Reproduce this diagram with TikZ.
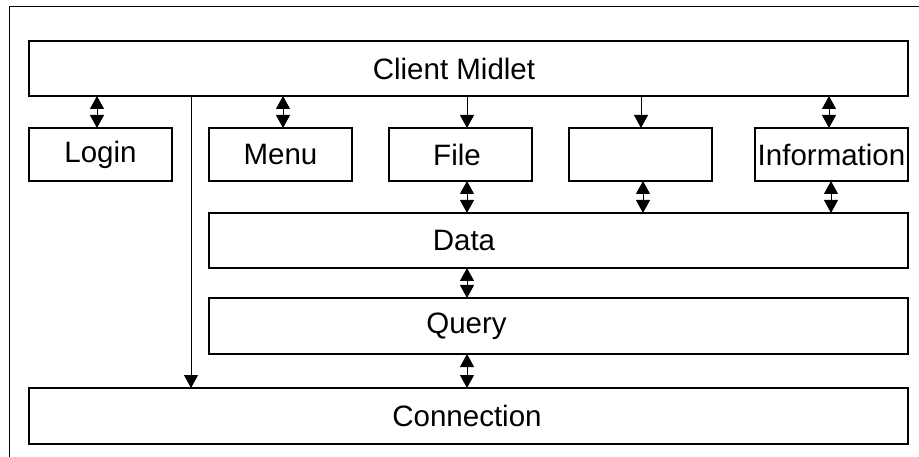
\documentclass[tikz,border=0pt]{standalone}
\usepackage{fontspec}
\setmainfont{Liberation Sans}
\usetikzlibrary{arrows.meta}
\begin{document}
\begin{tikzpicture}[x=1pt,y=-1pt,
  box/.style={draw, line width=1.2pt, rectangle, inner sep=0pt, outer sep=0pt},
  lbl/.style={inner sep=0pt, font=\fontsize{29.5}{35}\selectfont},
  dbl/.style={line width=1pt, {Triangle[length=13pt,width=14pt]}-{Triangle[length=13pt,width=14pt]}},
  one/.style={line width=1pt, -{Triangle[length=13pt,width=14pt]}}]
\useasboundingbox (0,0) rectangle (919,457);
% outer frame
\draw[line width=1pt] (9,457) -- (9,7) -- (919,7);
% boxes
\node[box, minimum width=879pt, minimum height=55pt] (client) at (468.5,68.5) {};
\node[lbl] (clientText) at (454,68.5) {Client Midlet};
\node[box, minimum width=143pt, minimum height=53pt, lbl] (login) at (100.5,154.5) {Login};
\node[box, minimum width=143pt, minimum height=53pt, lbl] (menu) at (280.5,154.5) {Menu};
\node[box, minimum width=143pt, minimum height=53pt] (file) at (460.5,154.5) {};
\node[lbl] (fileText) at (457,154.5) {File};
\node[box, minimum width=143pt, minimum height=53pt] (blank) at (640.5,154.5) {};
\node[box, minimum width=153pt, minimum height=53pt, lbl] (info) at (831.5,154.5) {Information};
\node[box, minimum width=699pt, minimum height=55pt] (data) at (558.5,240.5) {};
\node[lbl] (dataText) at (464,240.5) {Data};
\node[box, minimum width=699pt, minimum height=56pt] (query) at (558.5,326) {};
\node[lbl] (queryText) at (466.5,326) {Query};
\node[box, minimum width=879pt, minimum height=56pt] (conn) at (468.5,416) {};
\node[lbl] (connText) at (467,416) {Connection};
% connector columns
\coordinate (xa) at (97,0);
\coordinate (xb) at (283,0);
\coordinate (xc) at (467,0);
\coordinate (xd) at (641,0);
\coordinate (xe) at (829,0);
\coordinate (xf) at (643,0);
\coordinate (xg) at (831,0);
\coordinate (xh) at (191,0);
% connectors
\draw[dbl] (client.south -| xa) -- (login.north -| xa);
\draw[dbl] (client.south -| xb) -- (menu.north -| xb);
\draw[one] (client.south -| xc) -- (file.north -| xc);
\draw[one] (client.south -| xd) -- (blank.north -| xd);
\draw[dbl] (client.south -| xe) -- (info.north -| xe);
\draw[dbl] (file.south -| xc) -- (data.north -| xc);
\draw[dbl] (blank.south -| xf) -- (data.north -| xf);
\draw[dbl] (info.south -| xg) -- (data.north -| xg);
\draw[dbl] (data.south -| xc) -- (query.north -| xc);
\draw[dbl] (query.south -| xc) -- (conn.north -| xc);
\draw[one] (client.south -| xh) -- (conn.north -| xh);
\end{tikzpicture}
\end{document}
